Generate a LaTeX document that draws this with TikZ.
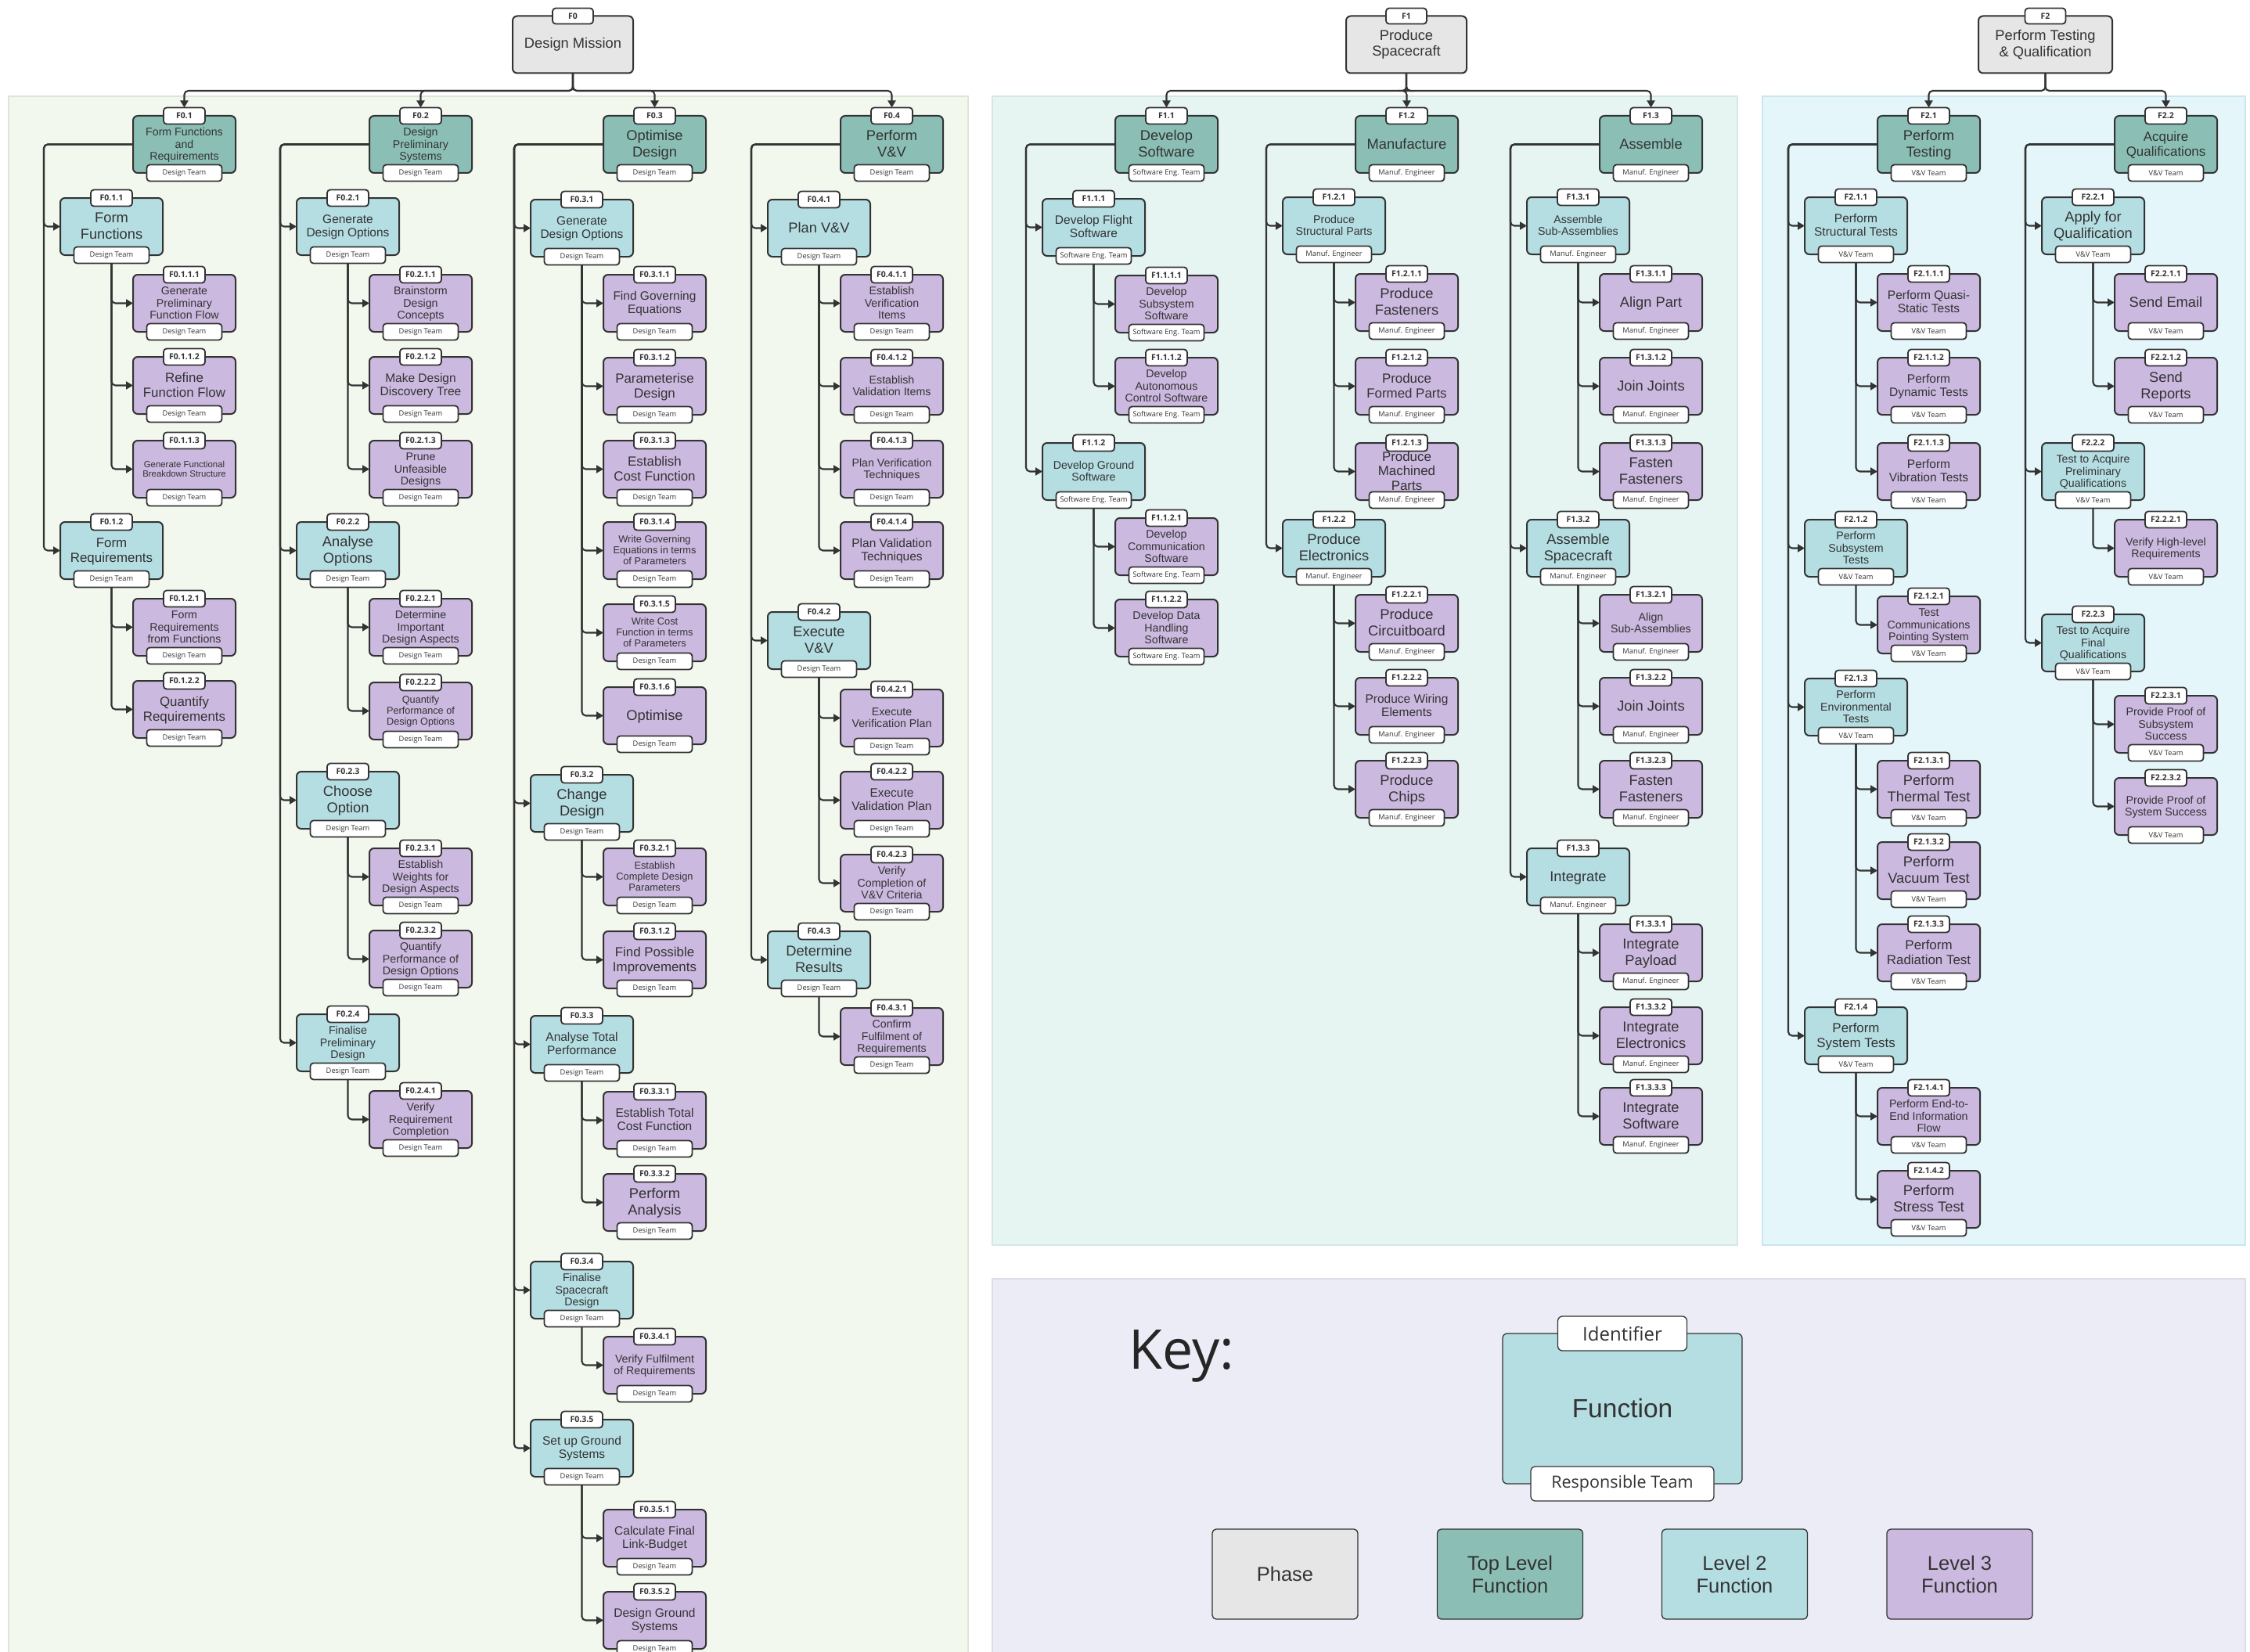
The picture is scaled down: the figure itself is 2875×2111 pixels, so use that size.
\documentclass[tikz,border=0pt]{standalone}
\usepackage{fontspec}
\setmainfont{Liberation Sans}
\newfontfamily\tabfont{Open Sans}
\usetikzlibrary{arrows.meta}

\definecolor{phasefill}{HTML}{E6E6E6}
\definecolor{topfill}{HTML}{8BBFB5}
\definecolor{lvtwofill}{HTML}{B5DEE3}
\definecolor{lvthreefill}{HTML}{CCB9E0}
\definecolor{ink}{HTML}{333333}
\definecolor{panelA}{HTML}{F2F8EE}
\definecolor{panelAline}{HTML}{DCE6D6}
\definecolor{panelB}{HTML}{E6F5F2}
\definecolor{panelBline}{HTML}{D3E8E4}
\definecolor{panelC}{HTML}{E4F6FA}
\definecolor{panelCline}{HTML}{C8E6EF}
\definecolor{panelD}{HTML}{ECECF7}
\definecolor{panelDline}{HTML}{DCDCE8}

% box text: largest step of the size ladder that keeps the widest line
% within 108pt, never above the given cap (#1)
\newdimen\fitwd
\newsavebox{\fitbox}
\newcommand{\fitted}[2]{%
  \sbox{\fitbox}{\fontsize{10}{12}\selectfont\begin{tabular}{@{}c@{}}#2\end{tabular}}%
  \fitwd=\wd\fitbox
  \ifdim\fitwd<59.0pt \def\fitsz{18.3}%
  \else\ifdim\fitwd<63.9pt \def\fitsz{16.9}%
  \else\ifdim\fitwd<69.6pt \def\fitsz{15.5}%
  \else\ifdim\fitwd<76.0pt \def\fitsz{14.2}%
  \else\ifdim\fitwd<84.3pt \def\fitsz{12.8}%
  \else \def\fitsz{11.4}\fi\fi\fi\fi\fi
  \ifdim#1pt<\fitsz pt \def\fitsz{#1}\fi
  \edef\fitlead{\the\dimexpr\fitsz pt*11/10\relax}%
  \fontsize{\fitsz}{\fitlead}\selectfont
  \begin{tabular}{@{}c@{}}#2\end{tabular}%
}
\newcommand{\curteam}{Design Team}
% #1 fill, #2 name, #3 left x, #4 top y, #5 identifier, #6 text, #7 largest size
\newcommand{\fnbox}[7]{%
  \node[fbox, fill=#1] (#2) at ({#3+65.5},{#4+36.5}) {};
  \node[ftext] at ([yshift=-1.5pt]#2.center) {\fitted{#7}{#6}};
  \node[idtab] (#2-i) at (#2.north) {#5};
  \node[teamtab] (#2-t) at (#2.south) {\curteam};
}
% name, column x, top y, identifier, text, largest size
\newcommand{\topf}[6]{\fnbox{topfill}{#1}{#2}{#3}{#4}{#5}{#6}}
\newcommand{\lvb}[6]{\fnbox{lvtwofill}{#1}{#2-93}{#3}{#4}{#5}{#6}}
\newcommand{\lvc}[6]{\fnbox{lvthreefill}{#1}{#2}{#3}{#4}{#5}{#6}}

\begin{document}
\begin{tikzpicture}[x=1pt,y=-1pt,
  fbox/.style={draw=ink, line width=2pt, rounded corners=6pt, minimum width=131pt, minimum height=73pt, inner sep=0pt, outer sep=0pt},
  ftext/.style={text=ink, inner sep=0pt},
  idtab/.style={draw=ink, fill=white, line width=1.8pt, rounded corners=4pt, minimum width=53pt, minimum height=21pt, inner sep=0pt, outer sep=0pt, text=ink, font=\tabfont\bfseries\fontsize{10.5}{12}\selectfont},
  teamtab/.style={idtab, minimum width=96pt, font=\tabfont\fontsize{9.3}{11}\selectfont},
  phasebox/.style={fbox, fill=phasefill, minimum width=154pt, align=center, text=ink, font=\fontsize{18.3}{20.3}\selectfont},
  conn/.style={draw=ink, line width=2.1pt, rounded corners=5pt, -{Triangle[length=9pt,width=10pt]}},
  legbox/.style={draw=ink, line width=1.3pt, rounded corners=5pt, minimum width=186pt, minimum height=115pt, inner sep=0pt, align=center, text=ink, font=\fontsize{25.5}{29}\selectfont},
  keytab/.style={draw=ink, fill=white, line width=1.3pt, rounded corners=6pt, minimum height=44pt, inner sep=0pt, text=ink},
  panel/.style={line width=1.2pt}
]
\useasboundingbox (0,0) rectangle (2875,2111);
\fill[white] (0,0) rectangle (2875,2111);

% background panels
\filldraw[panel, fill=panelA, draw=panelAline] (11,123) rectangle (1237,2130);
\filldraw[panel, fill=panelB, draw=panelBline] (1268,123) rectangle (2220,1591);
\filldraw[panel, fill=panelC, draw=panelCline] (2252,123) rectangle (2869,1591);
\filldraw[panel, fill=panelD, draw=panelDline] (1268,1634) rectangle (2869,2130);

\coordinate (bus) at (0,116);

% phases
\node[phasebox] (f0) at (732,57) {Design Mission};
\node[idtab, minimum width=52pt, minimum height=20pt] (f0-i) at (f0.north) {F0};
\node[phasebox] (f1) at (1797,57) {Produce\\Spacecraft};
\node[idtab, minimum width=52pt, minimum height=20pt] (f1-i) at (f1.north) {F1};
\node[phasebox, minimum width=171pt] (f2) at (2613.5,57) {Perform Testing\\\& Qualification};
\node[idtab, minimum width=52pt, minimum height=20pt] (f2-i) at (f2.north) {F2};

% ---------- F0 : Design Mission ----------
\renewcommand{\curteam}{Design Team}
\topf{f0-1}{170}{148}{F0.1}{Form Functions\\and\\Requirements}{14.2}
\lvb{f0-1-1}{170}{253}{F0.1.1}{Form\\Functions}{18.3}
\lvc{f0-1-1-1}{170}{351}{F0.1.1.1}{Generate\\Preliminary\\Function Flow}{14.2}
\lvc{f0-1-1-2}{170}{456}{F0.1.1.2}{Refine\\Function Flow}{18.3}
\lvc{f0-1-1-3}{170}{563}{F0.1.1.3}{Generate Functional\\Breakdown Structure}{18.3}
\lvb{f0-1-2}{170}{667}{F0.1.2}{Form\\Requirements}{18.3}
\lvc{f0-1-2-1}{170}{765}{F0.1.2.1}{Form\\Requirements\\from Functions}{14.2}
\lvc{f0-1-2-2}{170}{870}{F0.1.2.2}{Quantify\\Requirements}{18.3}

\topf{f0-2}{472}{148}{F0.2}{Design\\Preliminary\\Systems}{14.2}
\lvb{f0-2-1}{472}{253}{F0.2.1}{Generate\\Design Options}{18.3}
\lvc{f0-2-1-1}{472}{351}{F0.2.1.1}{Brainstorm\\Design\\Concepts}{14.2}
\lvc{f0-2-1-2}{472}{456}{F0.2.1.2}{Make Design\\Discovery Tree}{18.3}
\lvc{f0-2-1-3}{472}{563}{F0.2.1.3}{Prune\\Unfeasible\\Designs}{14.2}
\lvb{f0-2-2}{472}{667}{F0.2.2}{Analyse\\Options}{18.3}
\lvc{f0-2-2-1}{472}{765}{F0.2.2.1}{Determine\\Important\\Design Aspects}{14.2}
\lvc{f0-2-2-2}{472}{872}{F0.2.2.2}{Quantify\\Performance of\\Design Options}{12.7}
\lvb{f0-2-3}{472}{986}{F0.2.3}{Choose\\Option}{18.3}
\lvc{f0-2-3-1}{472}{1084}{F0.2.3.1}{Establish\\Weights for\\Design Aspects}{14.2}
\lvc{f0-2-3-2}{472}{1189}{F0.2.3.2}{Quantify\\Performance of\\Design Options}{14.2}
\lvb{f0-2-4}{472}{1296}{F0.2.4}{Finalise\\Preliminary\\Design}{14.2}
\lvc{f0-2-4-1}{472}{1394}{F0.2.4.1}{Verify\\Requirement\\Completion}{14.2}

\topf{f0-3}{771}{148}{F0.3}{Optimise\\Design}{18.3}
\lvb{f0-3-1}{771}{255}{F0.3.1}{Generate\\Design Options}{18.3}
\lvc{f0-3-1-1}{771}{351}{F0.3.1.1}{Find Governing\\Equations}{18.3}
\lvc{f0-3-1-2}{771}{457}{F0.3.1.2}{Parameterise\\Design}{18.3}
\lvc{f0-3-1-3}{771}{563}{F0.3.1.3}{Establish\\Cost Function}{18.3}
\lvc{f0-3-1-4}{771}{667}{F0.3.1.4}{Write Governing\\Equations in terms\\of Parameters}{14.2}
\lvc{f0-3-1-5}{771}{772}{F0.3.1.5}{Write Cost\\Function in terms\\of Parameters}{12.9}
\lvc{f0-3-1-6}{771}{878}{F0.3.1.6}{Optimise}{18.3}
\lvb{f0-3-2}{771}{990}{F0.3.2}{Change\\Design}{18.3}
\lvc{f0-3-2-1}{771}{1084}{F0.3.2.1}{Establish\\Complete Design\\Parameters}{12.8}
\lvc{f0-3-2-2}{771}{1190}{F0.3.1.2}{Find Possible\\Improvements}{18.3}
\lvb{f0-3-3}{771}{1298}{F0.3.3}{Analyse Total\\Performance}{15.5}
\lvc{f0-3-3-1}{771}{1395}{F0.3.3.1}{Establish Total\\Cost Function}{15.5}
\lvc{f0-3-3-2}{771}{1500}{F0.3.3.2}{Perform\\Analysis}{18.3}
\lvb{f0-3-4}{771}{1612}{F0.3.4}{Finalise\\Spacecraft\\Design}{14.2}
\lvc{f0-3-4-1}{771}{1708}{F0.3.4.1}{Verify Fulfilment\\of Requirements}{14.2}
\lvb{f0-3-5}{771}{1814}{F0.3.5}{Set up Ground\\Systems}{15.5}
\lvc{f0-3-5-1}{771}{1929}{F0.3.5.1}{Calculate Final\\Link-Budget}{15.5}
\lvc{f0-3-5-2}{771}{2034}{F0.3.5.2}{Design Ground\\Systems}{15.5}

\topf{f0-4}{1074}{148}{F0.4}{Perform\\V\&V}{18.3}
\lvb{f0-4-1}{1074}{255}{F0.4.1}{Plan V\&V}{18.3}
\lvc{f0-4-1-1}{1074}{351}{F0.4.1.1}{Establish\\Verification\\Items}{14.2}
\lvc{f0-4-1-2}{1074}{457}{F0.4.1.2}{Establish\\Validation Items}{18.3}
\lvc{f0-4-1-3}{1074}{563}{F0.4.1.3}{Plan Verification\\Techniques}{18.3}
\lvc{f0-4-1-4}{1074}{667}{F0.4.1.4}{Plan Validation\\Techniques}{18.3}
\lvb{f0-4-2}{1074}{782}{F0.4.2}{Execute\\V\&V}{18.3}
\lvc{f0-4-2-1}{1074}{881}{F0.4.2.1}{Execute\\Verification Plan}{18.3}
\lvc{f0-4-2-2}{1074}{986}{F0.4.2.2}{Execute\\Validation Plan}{18.3}
\lvc{f0-4-2-3}{1074}{1092}{F0.4.2.3}{Verify\\Completion of\\V\&V Criteria}{14.2}
\lvb{f0-4-3}{1074}{1190}{F0.4.3}{Determine\\Results}{18.3}
\lvc{f0-4-3-1}{1074}{1288}{F0.4.3.1}{Confirm\\Fulfilment of\\Requirements}{14.2}

% ---------- F1 : Produce Spacecraft ----------
\renewcommand{\curteam}{Software Eng. Team}
\topf{f1-1}{1425}{148}{F1.1}{Develop\\Software}{18.3}
\lvb{f1-1-1}{1425}{254}{F1.1.1}{Develop Flight\\Software}{15.5}
\lvc{f1-1-1-1}{1425}{352}{F1.1.1.1}{Develop\\Subsystem\\Software}{14.2}
\lvc{f1-1-1-2}{1425}{457}{F1.1.1.2}{Develop\\Autonomous\\Control Software}{14.2}
\lvb{f1-1-2}{1425}{566}{F1.1.2}{Develop Ground\\Software}{18.3}
\lvc{f1-1-2-1}{1425}{662}{F1.1.2.1}{Develop\\Communication\\Software}{14.2}
\lvc{f1-1-2-2}{1425}{766}{F1.1.2.2}{Develop Data\\Handling\\Software}{14.2}

\renewcommand{\curteam}{Manuf. Engineer}
\topf{f1-2}{1732}{148}{F1.2}{Manufacture}{18.3}
\lvb{f1-2-1}{1732}{252}{F1.2.1}{Produce\\Structural Parts}{14.2}
\lvc{f1-2-1-1}{1732}{350}{F1.2.1.1}{Produce\\Fasteners}{18.3}
\lvc{f1-2-1-2}{1732}{457}{F1.2.1.2}{Produce\\Formed Parts}{18.3}
\lvc{f1-2-1-3}{1732}{566}{F1.2.1.3}{Produce\\Machined\\Parts}{16.9}
\lvb{f1-2-2}{1732}{664}{F1.2.2}{Produce\\Electronics}{18.3}
\lvc{f1-2-2-1}{1732}{760}{F1.2.2.1}{Produce\\Circuitboard}{18.3}
\lvc{f1-2-2-2}{1732}{866}{F1.2.2.2}{Produce Wiring\\Elements}{18.3}
\lvc{f1-2-2-3}{1732}{972}{F1.2.2.3}{Produce\\Chips}{18.3}

\topf{f1-3}{2044}{148}{F1.3}{Assemble}{18.3}
\lvb{f1-3-1}{2044}{252}{F1.3.1}{Assemble\\Sub-Assemblies}{18.3}
\lvc{f1-3-1-1}{2044}{350}{F1.3.1.1}{Align Part}{18.3}
\lvc{f1-3-1-2}{2044}{457}{F1.3.1.2}{Join Joints}{18.3}
\lvc{f1-3-1-3}{2044}{566}{F1.3.1.3}{Fasten\\Fasteners}{18.3}
\lvb{f1-3-2}{2044}{664}{F1.3.2}{Assemble\\Spacecraft}{18.3}
\lvc{f1-3-2-1}{2044}{760}{F1.3.2.1}{Align\\Sub-Assemblies}{18.3}
\lvc{f1-3-2-2}{2044}{866}{F1.3.2.2}{Join Joints}{18.3}
\lvc{f1-3-2-3}{2044}{972}{F1.3.2.3}{Fasten\\Fasteners}{18.3}
\lvb{f1-3-3}{2044}{1084}{F1.3.3}{Integrate}{18.3}
\lvc{f1-3-3-1}{2044}{1181}{F1.3.3.1}{Integrate\\Payload}{18.3}
\lvc{f1-3-3-2}{2044}{1287}{F1.3.3.2}{Integrate\\Electronics}{18.3}
\lvc{f1-3-3-3}{2044}{1390}{F1.3.3.3}{Integrate\\Software}{18.3}

% ---------- F2 : Perform Testing & Qualification ----------
\renewcommand{\curteam}{V\&V Team}
\topf{f2-1}{2399}{148}{F2.1}{Perform\\Testing}{18.3}
\lvb{f2-1-1}{2399}{252}{F2.1.1}{Perform\\Structural Tests}{18.3}
\lvc{f2-1-1-1}{2399}{350}{F2.1.1.1}{Perform Quasi-\\Static Tests}{18.3}
\lvc{f2-1-1-2}{2399}{457}{F2.1.1.2}{Perform\\Dynamic Tests}{18.3}
\lvc{f2-1-1-3}{2399}{566}{F2.1.1.3}{Perform\\Vibration Tests}{18.3}
\lvb{f2-1-2}{2399}{664}{F2.1.2}{Perform\\Subsystem\\Tests}{14.2}
\lvc{f2-1-2-1}{2399}{762}{F2.1.2.1}{Test\\Communications\\Pointing System}{14.2}
\lvb{f2-1-3}{2399}{867}{F2.1.3}{Perform\\Environmental\\Tests}{14.2}
\lvc{f2-1-3-1}{2399}{972}{F2.1.3.1}{Perform\\Thermal Test}{18.3}
\lvc{f2-1-3-2}{2399}{1076}{F2.1.3.2}{Perform\\Vacuum Test}{18.3}
\lvc{f2-1-3-3}{2399}{1181}{F2.1.3.3}{Perform\\Radiation Test}{18.3}
\lvb{f2-1-4}{2399}{1287}{F2.1.4}{Perform\\System Tests}{18.3}
\lvc{f2-1-4-1}{2399}{1390}{F2.1.4.1}{Perform End-to-\\End Information\\Flow}{14.2}
\lvc{f2-1-4-2}{2399}{1496}{F2.1.4.2}{Perform\\Stress Test}{18.3}

\topf{f2-2}{2702}{148}{F2.2}{Acquire\\Qualifications}{18.3}
\lvb{f2-2-1}{2702}{252}{F2.2.1}{Apply for\\Qualification}{18.3}
\lvc{f2-2-1-1}{2702}{350}{F2.2.1.1}{Send Email}{18.3}
\lvc{f2-2-1-2}{2702}{457}{F2.2.1.2}{Send\\Reports}{18.3}
\lvb{f2-2-2}{2702}{566}{F2.2.2}{Test to Acquire\\Preliminary\\Qualifications}{14.2}
\lvc{f2-2-2-1}{2702}{664}{F2.2.2.1}{Verify High-level\\Requirements}{18.3}
\lvb{f2-2-3}{2702}{785}{F2.2.3}{Test to Acquire\\Final\\Qualifications}{14.2}
\lvc{f2-2-3-1}{2702}{889}{F2.2.3.1}{Provide Proof of\\Subsystem\\Success}{14.2}
\lvc{f2-2-3-2}{2702}{994}{F2.2.3.2}{Provide Proof of\\System Success}{18.3}

% ---------- connectors: phase to top level ----------
\foreach \p/\c in {f0/f0-1,f0/f0-2,f0/f0-3,f0/f0-4,f1/f1-1,f1/f1-2,f1/f1-3,f2/f2-1,f2/f2-2}
  \draw[conn] (\p.south) -- (\p.south |- bus) -| (\c-i.north);

% ---------- connectors: top level to level 2 ----------
\foreach \a/\c in {f0-1/f0-1-1,f0-1/f0-1-2,
  f0-2/f0-2-1,f0-2/f0-2-2,f0-2/f0-2-3,f0-2/f0-2-4,
  f0-3/f0-3-1,f0-3/f0-3-2,f0-3/f0-3-3,f0-3/f0-3-4,f0-3/f0-3-5,
  f0-4/f0-4-1,f0-4/f0-4-2,f0-4/f0-4-3,
  f1-1/f1-1-1,f1-1/f1-1-2,
  f1-2/f1-2-1,f1-2/f1-2-2,
  f1-3/f1-3-1,f1-3/f1-3-2,f1-3/f1-3-3,
  f2-1/f2-1-1,f2-1/f2-1-2,f2-1/f2-1-3,f2-1/f2-1-4,
  f2-2/f2-2-1,f2-2/f2-2-2,f2-2/f2-2-3}
  \draw[conn] (\a.west) -- ++(-114,0) |- (\c.west);

% ---------- connectors: level 2 to level 3 ----------
\foreach \a/\c in {f0-1-1/f0-1-1-1,f0-1-1/f0-1-1-2,f0-1-1/f0-1-1-3,
  f0-1-2/f0-1-2-1,f0-1-2/f0-1-2-2,
  f0-2-1/f0-2-1-1,f0-2-1/f0-2-1-2,f0-2-1/f0-2-1-3,
  f0-2-2/f0-2-2-1,f0-2-2/f0-2-2-2,
  f0-2-3/f0-2-3-1,f0-2-3/f0-2-3-2,
  f0-2-4/f0-2-4-1,
  f0-3-1/f0-3-1-1,f0-3-1/f0-3-1-2,f0-3-1/f0-3-1-3,f0-3-1/f0-3-1-4,f0-3-1/f0-3-1-5,f0-3-1/f0-3-1-6,
  f0-3-2/f0-3-2-1,f0-3-2/f0-3-2-2,
  f0-3-3/f0-3-3-1,f0-3-3/f0-3-3-2,
  f0-3-4/f0-3-4-1,
  f0-3-5/f0-3-5-1,f0-3-5/f0-3-5-2,
  f0-4-1/f0-4-1-1,f0-4-1/f0-4-1-2,f0-4-1/f0-4-1-3,f0-4-1/f0-4-1-4,
  f0-4-2/f0-4-2-1,f0-4-2/f0-4-2-2,f0-4-2/f0-4-2-3,
  f0-4-3/f0-4-3-1,
  f1-1-1/f1-1-1-1,f1-1-1/f1-1-1-2,
  f1-1-2/f1-1-2-1,f1-1-2/f1-1-2-2,
  f1-2-1/f1-2-1-1,f1-2-1/f1-2-1-2,f1-2-1/f1-2-1-3,
  f1-2-2/f1-2-2-1,f1-2-2/f1-2-2-2,f1-2-2/f1-2-2-3,
  f1-3-1/f1-3-1-1,f1-3-1/f1-3-1-2,f1-3-1/f1-3-1-3,
  f1-3-2/f1-3-2-1,f1-3-2/f1-3-2-2,f1-3-2/f1-3-2-3,
  f1-3-3/f1-3-3-1,f1-3-3/f1-3-3-2,f1-3-3/f1-3-3-3,
  f2-1-1/f2-1-1-1,f2-1-1/f2-1-1-2,f2-1-1/f2-1-1-3,
  f2-1-2/f2-1-2-1,
  f2-1-3/f2-1-3-1,f2-1-3/f2-1-3-2,f2-1-3/f2-1-3-3,
  f2-1-4/f2-1-4-1,f2-1-4/f2-1-4-2,
  f2-2-1/f2-2-1-1,f2-2-1/f2-2-1-2,
  f2-2-2/f2-2-2-1,
  f2-2-3/f2-2-3-1,f2-2-3/f2-2-3-2}
  \draw[conn] (\a-t.south) |- (\c.west);

% ---------- key ----------
\node[anchor=west, inner sep=0pt, text=black!85, font=\tabfont\fontsize{70}{80}\selectfont] (keytitle) at (1442,1733) {Key:};
\node[fbox, fill=lvtwofill, line width=1.3pt, minimum width=306pt, minimum height=192pt, text=ink, font=\fontsize{33.5}{38}\selectfont] (keyfn) at (2073,1800) {Function};
\node[keytab, minimum width=165pt, font=\tabfont\fontsize{24}{28}\selectfont] (keyid) at (keyfn.north) {Identifier};
\node[keytab, minimum width=234pt, font=\tabfont\fontsize{21.5}{26}\selectfont] (keyteam) at (keyfn.south) {Responsible Team};

\node[legbox, fill=phasefill] (legphase) at (1642,2011.5) {Phase};
\node[legbox, fill=topfill] (legtop) at (1929.5,2011.5) {Top Level\\Function};
\node[legbox, fill=lvtwofill] (legtwo) at (2216.5,2011.5) {Level 2\\Function};
\node[legbox, fill=lvthreefill] (legthree) at (2504,2011.5) {Level 3\\Function};
\end{tikzpicture}
\end{document}
